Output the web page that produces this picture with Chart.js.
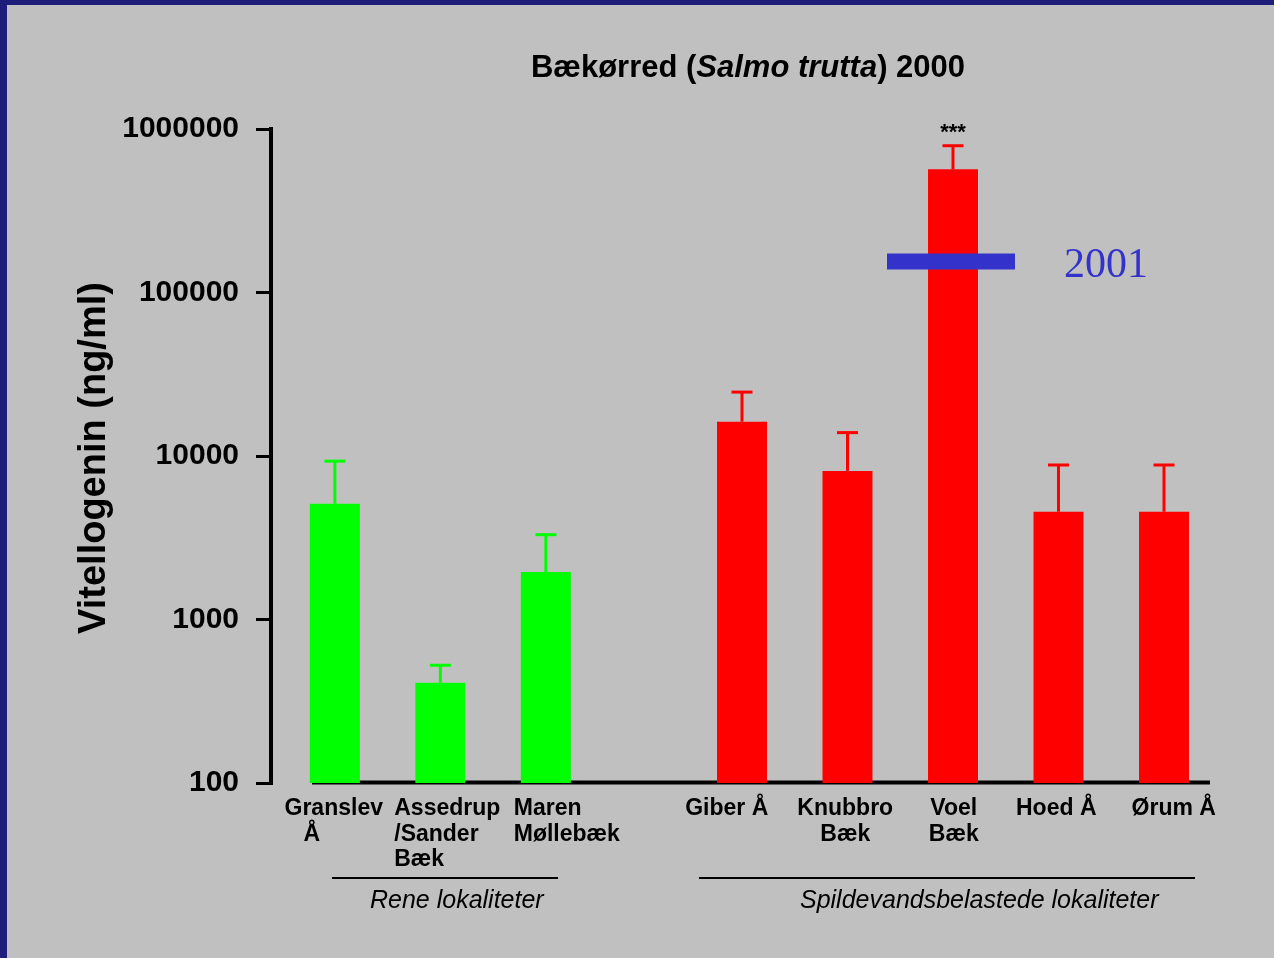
<!DOCTYPE html>
<html>
<head>
<meta charset="utf-8">
<title>Vitellogenin i bækørred 2000</title>
<script src="https://cdn.jsdelivr.net/npm/chart.js@4/dist/chart.umd.min.js"></script>
<style>
  html, body { margin: 0; padding: 0; background: #c0c0c0; }
  canvas { display: block; }
</style>
</head>
<body>
<canvas id="chart" width="1274" height="958"></canvas>
<script>
// sites along the x axis, one empty slot between the two groups
const sites = ['Granslev Å', 'Assedrup /Sander Bæk', 'Maren Møllebæk', '', 'Giber Å', 'Knubbro Bæk', 'Voel Bæk', 'Hoed Å', 'Ørum Å'];
const siteLines = [['Granslev', 'Å'], ['Assedrup', '/Sander', 'Bæk'], ['Maren', 'Møllebæk'], [], ['Giber Å'], ['Knubbro', 'Bæk'], ['Voel', 'Bæk'], ['Hoed Å'], ['Ørum Å']];

// vitellogenin, ng/ml (mean and standard error)
const cleanMean = [5100, 410, 1950, null, null, null, null, null, null];
const cleanSE = [4200, 115, 1350, null, null, null, null, null, null];
const wasteMean = [null, null, null, null, 16200, 8100, 567000, 4560, 4560];
const wasteSE = [null, null, null, null, 8400, 5800, 223000, 4250, 4250];

// Voel Bæk level measured the following year
const voel2001 = 155000;
const voelIndex = 6;

const significance = ['', '', '', '', '', '', '***', '', ''];
const yTicks = [100, 1000, 10000, 100000, 1000000];

// underlines under each group, in category units
const groups = [
    { name: 'Rene lokaliteter', from: 0.078, to: 2.22, textAt: 0.438 },
    { name: 'Spildevandsbelastede lokaliteter', from: 3.557, to: 8.258, textAt: 4.514 }
];

const FONT = '"Liberation Sans", Arial, Helvetica, sans-serif';
const BLUE = '#3333cc';

// how each site name block sits under its category
const labelPlacement = [
    { align: 'center', dx: 10, lineDx: [0, -22] },
    { align: 'left', dx: -35 },
    { align: 'left', dx: -21 },
    null,
    { align: 'center', dx: -19 },
    { align: 'center', dx: -6 },
    { align: 'center', dx: -3 },
    { align: 'center', dx: -6 },
    { align: 'center', dx: 6 }
];

const backdrop = {
    id: 'backdrop',
    beforeDraw(chart) {
        const ctx = chart.ctx;
        ctx.save();
        ctx.fillStyle = '#1f1d7c';
        ctx.fillRect(0, 0, chart.width, chart.height);
        ctx.fillStyle = '#c0c0c0';
        ctx.fillRect(7, 5, chart.width - 7, chart.height - 5);
        ctx.restore();
    }
};

const decorations = {
    id: 'decorations',
    beforeDatasetsDraw(chart) {
        const ctx = chart.ctx;
        const x = chart.scales.x;
        const y = chart.scales.y;
        // x axis line, drawn under the bars
        ctx.save();
        ctx.strokeStyle = '#000';
        ctx.lineWidth = 4;
        ctx.beginPath();
        ctx.moveTo(x.getPixelForValue(-0.111), y.bottom - 0.5);
        ctx.lineTo(x.getPixelForValue(8.4), y.bottom - 0.5);
        ctx.stroke();
        ctx.restore();
    },
    afterDatasetsDraw(chart) {
        const ctx = chart.ctx;
        const x = chart.scales.x;
        const y = chart.scales.y;
        ctx.save();

        // error bars (mean + SE)
        chart.data.datasets.forEach((ds, di) => {
            const meta = chart.getDatasetMeta(di);
            ds.data.forEach((v, i) => {
                if (v === null) return;
                const bar = meta.data[i];
                const top = y.getPixelForValue(v + ds.errors[i]);
                ctx.strokeStyle = ds.backgroundColor;
                ctx.lineWidth = 3;
                ctx.beginPath();
                ctx.moveTo(bar.x, bar.y);
                ctx.lineTo(bar.x, top);
                ctx.stroke();
                ctx.beginPath();
                ctx.moveTo(bar.x - 10.5, top);
                ctx.lineTo(bar.x + 10.5, top);
                ctx.stroke();

                if (significance[i]) {
                    ctx.fillStyle = '#000';
                    ctx.font = 'bold 22px ' + FONT;
                    ctx.textAlign = 'center';
                    ctx.textBaseline = 'alphabetic';
                    ctx.fillText(significance[i], bar.x, top - 7);
                }
            });
        });

        // 2001 level for Voel Bæk
        const voelBar = chart.getDatasetMeta(0).data[voelIndex];
        const y2001 = y.getPixelForValue(voel2001);
        ctx.strokeStyle = BLUE;
        ctx.lineWidth = 16;
        ctx.beginPath();
        ctx.moveTo(voelBar.x - 66, y2001);
        ctx.lineTo(voelBar.x + 62, y2001);
        ctx.stroke();
        ctx.fillStyle = BLUE;
        ctx.font = '42px "Liberation Serif", "Times New Roman", serif';
        ctx.textAlign = 'left';
        ctx.textBaseline = 'alphabetic';
        ctx.fillText('2001', voelBar.x + 111, y2001 + 16);

        // site names
        ctx.fillStyle = '#000';
        ctx.font = 'bold 23px ' + FONT;
        siteLines.forEach((lines, i) => {
            const p = labelPlacement[i];
            if (!p) return;
            const cx = x.getPixelForValue(i) + p.dx;
            ctx.textAlign = p.align;
            lines.forEach((line, li) => {
                const ldx = p.lineDx ? p.lineDx[li] : 0;
                ctx.fillText(line, cx + ldx, y.bottom + 32 + li * 25.5);
            });
        });

        // group underlines and names
        ctx.strokeStyle = '#000';
        ctx.lineWidth = 2;
        ctx.font = 'italic 25px ' + FONT;
        ctx.textAlign = 'left';
        groups.forEach(g => {
            ctx.beginPath();
            ctx.moveTo(x.getPixelForValue(g.from), y.bottom + 95);
            ctx.lineTo(x.getPixelForValue(g.to), y.bottom + 95);
            ctx.stroke();
            ctx.fillText(g.name, x.getPixelForValue(g.textAt), y.bottom + 125);
        });

        // y axis title
        ctx.save();
        ctx.translate(105, (y.top + y.bottom) / 2 + 2);
        ctx.rotate(-Math.PI / 2);
        ctx.font = 'bold 38px ' + FONT;
        ctx.textAlign = 'center';
        ctx.fillText('Vitellogenin (ng/ml)', 0, 0);
        ctx.restore();

        // title with the latin name in italics
        const runs = [
            ['bold 31px ' + FONT, 'Bækørred ('],
            ['italic bold 31px ' + FONT, 'Salmo trutta'],
            ['bold 31px ' + FONT, ') 2000']
        ];
        let total = 0;
        runs.forEach(r => { ctx.font = r[0]; total += ctx.measureText(r[1]).width; });
        let tx = 748 - total / 2;
        ctx.textAlign = 'left';
        runs.forEach(r => {
            ctx.font = r[0];
            ctx.fillText(r[1], tx, 77);
            tx += ctx.measureText(r[1]).width;
        });

        ctx.restore();
    }
};

new Chart(document.getElementById('chart'), {
    type: 'bar',
    data: {
        labels: sites,
        datasets: [
            {
                label: 'Spildevandsbelastede lokaliteter',
                data: wasteMean,
                errors: wasteSE,
                backgroundColor: '#ff0000',
                categoryPercentage: 0.142,
                barPercentage: 6.67
            },
            {
                label: 'Rene lokaliteter',
                data: cleanMean,
                errors: cleanSE,
                backgroundColor: '#00ff00',
                categoryPercentage: 0.421,
                barPercentage: 2.252
            }
        ]
    },
    options: {
        responsive: false,
        animation: false,
        devicePixelRatio: 1,
        layout: { padding: { left: 121, right: 53.5, top: 129, bottom: 175 } },
        datasets: {
            bar: { borderWidth: 0 }
        },
        plugins: {
            legend: { display: false },
            tooltip: { enabled: false }
        },
        scales: {
            x: {
                display: false,
                offset: true,
                grid: { display: false }
            },
            y: {
                type: 'logarithmic',
                min: 100,
                max: 1000000,
                afterFit(scale) { scale.width = 150; },
                afterBuildTicks(scale) { scale.ticks = yTicks.map(v => ({ value: v })); },
                ticks: {
                    color: '#000',
                    padding: 17,
                    font: { family: FONT, size: 30, weight: 'bold' },
                    callback: v => String(v)
                },
                grid: {
                    drawOnChartArea: false,
                    color: '#000',
                    lineWidth: 3,
                    tickLength: 15
                },
                border: { display: true, color: '#000', width: 4 }
            }
        }
    },
    plugins: [backdrop, decorations]
});
</script>
</body>
</html>
